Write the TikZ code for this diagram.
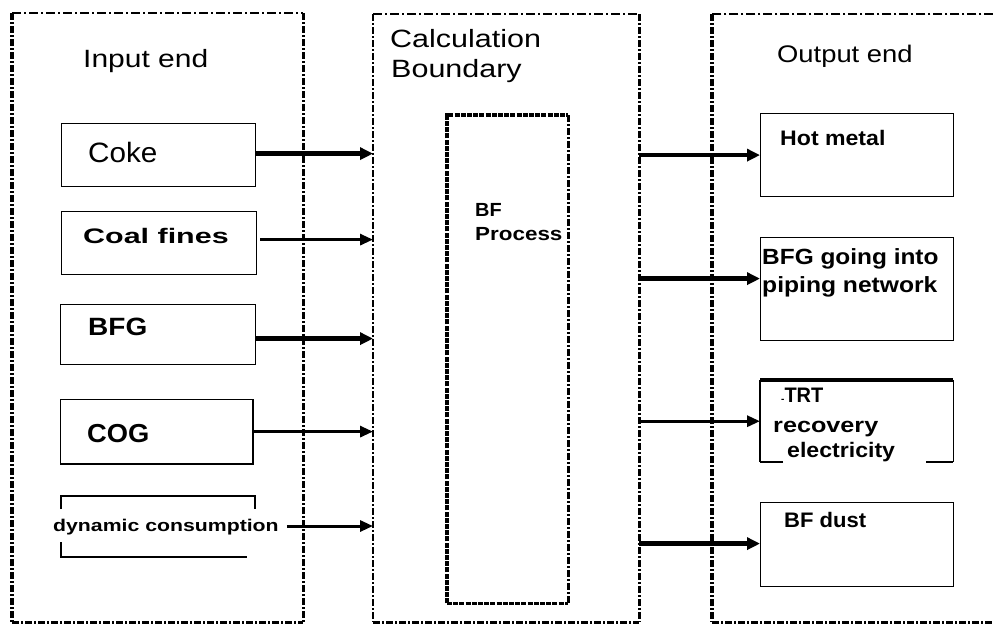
\documentclass[tikz,border=0pt]{standalone}
\usepackage{fontspec}
\setmainfont{Liberation Sans}
\usepackage{graphicx}
\usetikzlibrary{arrows.meta,calc}
\tikzset{
  box/.style={draw, line width=1.2pt, inner sep=0pt, anchor=north west},
  area/.style={inner sep=0pt, anchor=north west},
  lbl/.style={anchor=base west, inner sep=0pt},
  thickarrow/.style={line width=4.5pt, -{Triangle[length=13pt,width=12pt]}},
  thinarrow/.style={line width=3pt, -{Triangle[length=13pt,width=11pt]}},
  bdthin/.style={line width=1.8pt, dash pattern=on 9pt off 3pt on 2pt off 3pt},
  bdmid/.style={line width=2.8pt, dash pattern=on 7pt off 2pt on 2pt off 2pt},
  bdthick/.style={line width=3.4pt, dash pattern=on 7pt off 2pt on 2pt off 2pt},
  bpdense/.style={line width=3.6pt, dash pattern=on 5pt off 1.2pt},
}
\begin{document}
\begin{tikzpicture}[x=1pt,y=-1pt]
\useasboundingbox (0,0) rectangle (993,625);
\fill[white] (0,0) rectangle (993,625);

% boundary areas
\node[area, minimum width=291pt, minimum height=609pt] (inb) at (12,13) {};
\node[area, minimum width=266pt, minimum height=608pt] (calc) at (373,14) {};
\node[area, minimum width=281pt, minimum height=608pt] (outb) at (712,14) {};
\node[area, minimum width=121pt, minimum height=488pt] (bfp) at (447,115) {};

\draw[bdthin] (inb.north west) -- (inb.north east);
\draw[bdthick] (inb.north west) -- (inb.south west);
\draw[bdmid] (inb.north east) -- (inb.south east);
\draw[bdthick] (inb.south west) -- (inb.south east);

\draw[bdthin] (calc.north west) -- (calc.north east);
\draw[bdmid] (calc.north west) -- (calc.south west);
\draw[bdthick] (calc.north east) -- (calc.south east);
\draw[bdthick] (calc.south west) -- (calc.south east);

\draw[bdthin] (outb.north east) -- (outb.north west);
\draw[bdthick] (outb.north west) -- (outb.south west);
\draw[bdthick] (outb.south west) -- (outb.south east);

\draw[bpdense] (bfp.south west) -- (bfp.north west) -- (bfp.north east);
\draw[bpdense] (bfp.south west) -- (bfp.south east);
\draw[bdmid, line width=2.2pt] (bfp.north east) -- (bfp.south east);

% titles
\node[lbl, font=\fontsize{25}{30}\selectfont] (intitle) at (83,67) {\scalebox{1.2}[1]{Input end}};
\node[lbl, font=\fontsize{25}{30}\selectfont] (calctitle1) at (390,47) {\scalebox{1.22}[1]{Calculation}};
\node[lbl, font=\fontsize{25}{30}\selectfont] (calctitle2) at (391,77) {\scalebox{1.22}[1]{Boundary}};
\node[lbl, font=\fontsize{24}{29}\selectfont] (outtitle) at (777,62) {\scalebox{1.14}[1]{Output end}};

% input boxes
\node[box, minimum width=194pt, minimum height=63pt] (coke) at (61,123) {};
\node[box, minimum width=195pt, minimum height=63pt] (coal) at (61,211) {};
\node[box, minimum width=195pt, minimum height=60pt] (bfg) at (60,304) {};
\node[box, minimum width=192pt, minimum height=64pt] (cog) at (60,399) {};
\draw[line width=2.5pt] (cog.north east) -- (cog.south east) -- (cog.south west);

\draw[line width=1.2pt] (61,509) -- (61,496) -- (255,496) -- (255,509);
\draw[line width=1.2pt] (61,542) -- (61,557) -- (247,557);

\node[lbl, font=\fontsize{28}{32}\selectfont] (coketext) at (88,162) {\scalebox{1.06}[1]{Coke}};
\node[lbl, font=\bfseries\fontsize{21}{25}\selectfont] (coaltext) at (83,243) {\scalebox{1.45}[1]{Coal fines}};
\node[lbl, font=\bfseries\fontsize{25}{30}\selectfont] (bfgtext) at (88,335) {\scalebox{1.12}[1]{BFG}};
\node[lbl, font=\bfseries\fontsize{26}{30}\selectfont] (cogtext) at (87,442) {\scalebox{1.05}[1]{COG}};
\node[lbl, font=\bfseries\fontsize{17}{20}\selectfont] (dyntext) at (53,531) {\scalebox{1.25}[1]{dynamic consumption}};

% BF process
\node[lbl, font=\bfseries\fontsize{19}{23}\selectfont] (bf1) at (475,216) {\scalebox{1.05}[1]{BF}};
\node[lbl, font=\bfseries\fontsize{19}{23}\selectfont] (bf2) at (475,240) {\scalebox{1.18}[1]{Process}};

% output boxes
\node[box, minimum width=193pt, minimum height=83pt] (hot) at (760,113) {};
\node[box, minimum width=193pt, minimum height=103pt] (bfgout) at (760,237) {};
\node[area, minimum width=193pt, minimum height=82pt] (trt) at (760,380) {};
\node[box, minimum width=193pt, minimum height=84pt] (dust) at (760,502) {};
\draw[line width=1.2pt] (trt.north west) -- (trt.south west);
\draw[line width=1.2pt] (trt.north east) -- (trt.south east);
\draw[line width=3.5pt] (trt.north west) -- (trt.north east);
\draw[line width=2pt] ($(trt.south west)+(23,0)$) -- (trt.south west);
\draw[line width=2pt] ($(trt.south east)+(-27,0)$) -- (trt.south east);

\node[lbl, font=\bfseries\fontsize{21}{25}\selectfont] (hottext) at (780,145) {\scalebox{1.1}[1]{Hot metal}};
\node[lbl, font=\bfseries\fontsize{22}{26}\selectfont] (bfgout1) at (762,264) {\scalebox{1.11}[1]{BFG going into}};
\node[lbl, font=\bfseries\fontsize{22}{26}\selectfont] (bfgout2) at (762,292) {\scalebox{1.12}[1]{piping network}};
\node[lbl, font=\bfseries\fontsize{21}{25}\selectfont] (trt1) at (781,402) {{\fontsize{10}{10}\selectfont -}\scalebox{0.95}[1]{TRT}};
\node[lbl, font=\bfseries\fontsize{21}{25}\selectfont] (trt2) at (773,432) {\scalebox{1.2}[1]{recovery}};
\node[lbl, font=\bfseries\fontsize{21}{25}\selectfont] (trt3) at (787,457) {\scalebox{1.1}[1]{electricity}};
\node[lbl, font=\bfseries\fontsize{21}{25}\selectfont] (dusttext) at (784,527) {\scalebox{1.05}[1]{BF dust}};

% input arrows
\coordinate (a1) at ([yshift=1.5pt]coke.east);
\coordinate (a2) at ([xshift=3pt,yshift=3.5pt]coal.east);
\coordinate (a3) at ([yshift=-4pt]bfg.east);
\coordinate (a4) at (cog.east);
\coordinate (a5) at ([xshift=8pt,yshift=5pt]dyntext.base east);
\draw[thickarrow] (a1) -- (a1 -| calc.west);
\draw[thinarrow] (a2) -- (a2 -| calc.west);
\draw[thickarrow] (a3) -- (a3 -| calc.west);
\draw[thinarrow] (a4) -- (a4 -| calc.west);
\draw[thinarrow] (a5) -- (a5 -| calc.west);

% output arrows
\coordinate (b1) at (hot.west);
\coordinate (b2) at ([yshift=10.5pt]bfgout.west);
\coordinate (b3) at (trt.west);
\coordinate (b4) at ([yshift=1pt]dust.west);
\draw[thickarrow] (b1 -| calc.east) -- (b1);
\draw[thickarrow] (b2 -| calc.east) -- (b2);
\draw[thinarrow] (b3 -| calc.east) -- (b3);
\draw[thickarrow] (b4 -| calc.east) -- (b4);
\end{tikzpicture}
\end{document}
